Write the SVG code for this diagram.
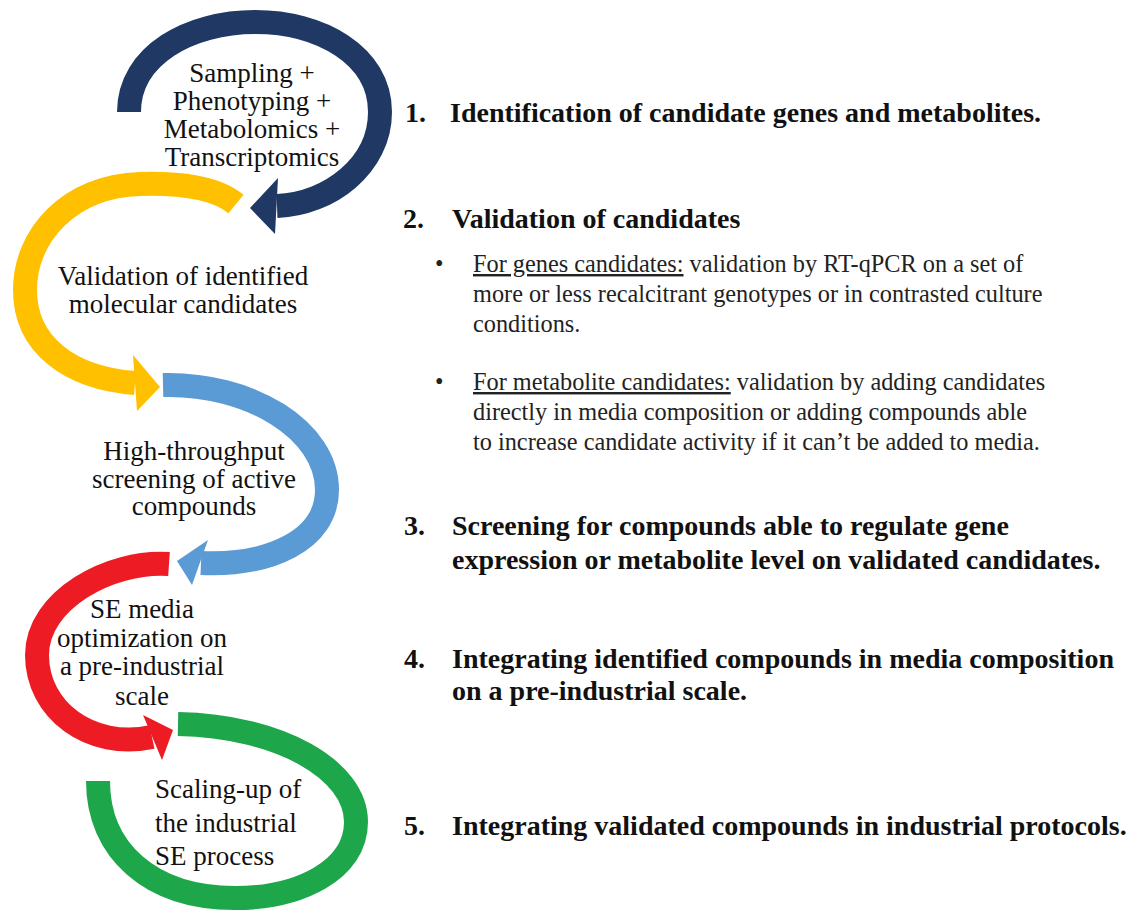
<svg xmlns="http://www.w3.org/2000/svg" width="1133" height="918" viewBox="0 0 1133 918">
<style>
.arc{fill:none;stroke-width:24;stroke-linecap:butt}
.lbl{font-family:"Liberation Serif","Times New Roman",serif;font-size:27px;fill:#111}
.hd{font-family:"Liberation Serif","Times New Roman",serif;font-size:28px;font-weight:bold;fill:#111}
.bt{font-family:"Liberation Serif","Times New Roman",serif;font-size:24.3px;fill:#222}
.u{text-decoration:underline}
</style>
<rect width="1133" height="918" fill="#fff"/>
<g id="connectors">
  <g id="arc-navy">
    <path class="arc" stroke="#1F3864" d="M129,112 C129,55 190,22 255,22 C320,22 380,55 380,112 C380,165 330,204 277,206"/>
    <polygon fill="#1F3864" points="278,178 250,208 275,234"/>
  </g>
  <g id="arc-yellow">
    <path class="arc" stroke="#FFC000" d="M236,204 C215,187 180,183 140,184 C70,186 25,235 25,290 C25,345 70,378 135,383"/>
    <polygon fill="#FFC000" points="133,355 160,387 137,411"/>
  </g>
  <g id="arc-red">
    <path class="arc" stroke="#ED1C24" d="M169,564 C110,560 37,600 37,655 C37,710 90,750 152,737"/>
    <polygon fill="#ED1C24" points="143,715 173,730 162,760"/>
  </g>
  <g id="arc-blue">
    <path class="arc" stroke="#5B9BD5" d="M163,385 C250,383 327,430 327,490 C327,540 270,566 201,563"/>
    <polygon fill="#5B9BD5" points="208,540 177,561 192,585"/>
  </g>
  <g id="arc-green">
    <path class="arc" stroke="#1DA64A" stroke-width="23" d="M178,724 C280,726 356,770 356,822 C356,870 300,898 235,898 C150,898 98,850 98,781"/>
  </g>
</g>
<g id="node-sampling" text-anchor="middle">
  <text class="lbl" x="252" y="82">Sampling +</text>
  <text class="lbl" x="252" y="110">Phenotyping +</text>
  <text class="lbl" x="252" y="138">Metabolomics +</text>
  <text class="lbl" x="252" y="166">Transcriptomics</text>
</g>
<g id="node-validation" text-anchor="middle">
  <text class="lbl" x="183" y="285">Validation of identified</text>
  <text class="lbl" x="183" y="313">molecular candidates</text>
</g>
<g id="node-screening" text-anchor="middle">
  <text class="lbl" x="194" y="460">High-throughput</text>
  <text class="lbl" x="194" y="488">screening of active</text>
  <text class="lbl" x="194" y="515">compounds</text>
</g>
<g id="node-optimization" text-anchor="middle">
  <text class="lbl" x="142" y="618">SE media</text>
  <text class="lbl" x="142" y="647">optimization on</text>
  <text class="lbl" x="142" y="675">a pre-industrial</text>
  <text class="lbl" x="142" y="705">scale</text>
</g>
<g id="node-scaling">
  <text class="lbl" x="155" y="798" fill="#333">Scaling-up of</text>
  <text class="lbl" x="155" y="832" fill="#333">the industrial</text>
  <text class="lbl" x="155" y="865" fill="#333">SE process</text>
</g>
<g id="step-1">
  <text class="hd" x="405" y="122">1.</text>
  <text class="hd" x="450" y="122">Identification of candidate genes and metabolites.</text>
</g>
<g id="step-2">
  <text class="hd" x="403" y="228">2.</text>
  <text class="hd" x="452" y="228">Validation of candidates</text>
  <text class="bt" x="435" y="272">•</text>
  <text class="bt" x="473" y="272"><tspan class="u">For genes candidates:</tspan> validation by RT-qPCR on a set of</text>
  <text class="bt" x="473" y="302">more or less recalcitrant genotypes or in contrasted culture</text>
  <text class="bt" x="473" y="332">conditions.</text>
  <text class="bt" x="435" y="390">•</text>
  <text class="bt" x="473" y="390"><tspan class="u">For metabolite candidates:</tspan> validation by adding candidates</text>
  <text class="bt" x="473" y="420">directly in media composition or adding compounds able</text>
  <text class="bt" x="473" y="450">to increase candidate activity if it can’t be added to media.</text>
</g>
<g id="step-3">
  <text class="hd" x="404" y="535">3.</text>
  <text class="hd" x="452" y="535">Screening for compounds able to regulate gene</text>
  <text class="hd" x="452" y="569">expression or metabolite level on validated candidates.</text>
</g>
<g id="step-4">
  <text class="hd" x="404" y="668">4.</text>
  <text class="hd" x="452" y="668">Integrating identified compounds in media composition</text>
  <text class="hd" x="452" y="700">on a pre-industrial scale.</text>
</g>
<g id="step-5">
  <text class="hd" x="404" y="835">5.</text>
  <text class="hd" x="452" y="835">Integrating validated compounds in industrial protocols.</text>
</g>
</svg>
